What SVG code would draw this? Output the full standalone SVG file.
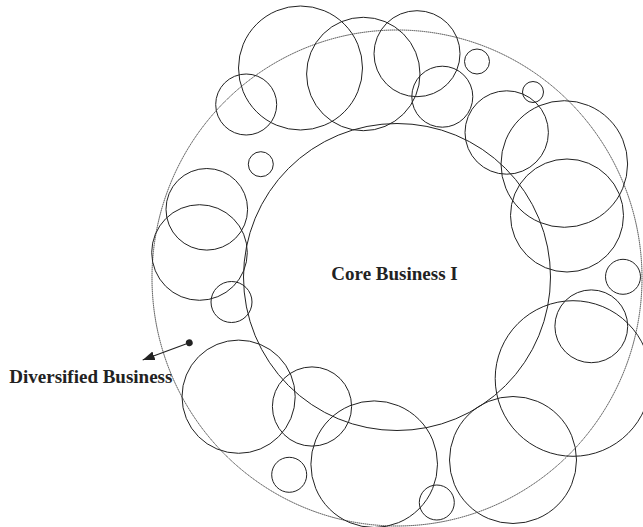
<svg xmlns="http://www.w3.org/2000/svg" width="643" height="527" viewBox="0 0 643 527">
<style>
.c{fill:none;stroke:#222;stroke-width:1}
.ring{fill:none;stroke:#333;stroke-width:0.9;stroke-dasharray:1.5 0.5}
.lbl{font-family:"Liberation Serif","Times New Roman",serif;font-weight:bold;font-size:19px;fill:#222}
.conn{stroke:#222;stroke-width:1.2;fill:none}
</style>
<defs>
<marker id="ah" markerUnits="userSpaceOnUse" markerWidth="13" markerHeight="10" refX="12" refY="4.5" orient="auto">
<path d="M0,0 L12,4.5 L0,9 z" fill="#222"/>
</marker>
<marker id="dot" markerUnits="userSpaceOnUse" markerWidth="8" markerHeight="8" refX="4" refY="4" orient="auto">
<circle cx="4" cy="4" r="3.4" fill="#222"/>
</marker>
</defs>
<g id="diversified">
<ellipse class="ring" cx="397" cy="278" rx="245" ry="248"/>
<text class="lbl" x="9.3" y="383.3">Diversified Business</text>
</g>
<g id="core">
<circle class="c" cx="397" cy="277" r="153.5"/>
<text class="lbl" x="394.5" y="280" text-anchor="middle">Core Business I</text>
</g>
<g id="businesses">
<circle id="b1" class="c" cx="300.5" cy="68" r="62"/>
<circle id="b2" class="c" cx="363.3" cy="74" r="56.7"/>
<circle id="b3" class="c" cx="417" cy="53.7" r="43"/>
<circle id="b4" class="c" cx="477" cy="61.5" r="12.5"/>
<circle id="b5" class="c" cx="442.3" cy="96.7" r="30.5"/>
<circle id="b6" class="c" cx="246.2" cy="104.5" r="30.5"/>
<circle id="b7" class="c" cx="260.8" cy="164.2" r="12.5"/>
<circle id="b8" class="c" cx="206.8" cy="209.3" r="40.8"/>
<circle id="b9" class="c" cx="199.5" cy="252.5" r="47.8"/>
<circle id="b10" class="c" cx="231.5" cy="302" r="20.5"/>
<circle id="b11" class="c" cx="506.7" cy="132.5" r="41.7"/>
<circle id="b12" class="c" cx="533" cy="92" r="10.5"/>
<circle id="b13" class="c" cx="564.3" cy="164" r="63.3"/>
<circle id="b14" class="c" cx="567" cy="215.5" r="56.5"/>
<circle id="b15" class="c" cx="623" cy="276.8" r="17.5"/>
<circle id="b16" class="c" cx="591.3" cy="326.3" r="36.4"/>
<circle id="b17" class="c" cx="573" cy="378.5" r="77.8"/>
<circle id="b18" class="c" cx="513" cy="460" r="63.5"/>
<circle id="b19" class="c" cx="374.2" cy="464.2" r="63.3"/>
<circle id="b20" class="c" cx="436.8" cy="502.5" r="17.5"/>
<circle id="b21" class="c" cx="289.2" cy="474.8" r="17.5"/>
<circle id="b22" class="c" cx="312" cy="406.5" r="39.6"/>
<circle id="b23" class="c" cx="238.6" cy="396.7" r="56.6"/>
</g>
<g id="connectors">
<line class="conn" x1="189.3" y1="342.7" x2="142.7" y2="360" marker-start="url(#dot)" marker-end="url(#ah)"/>
</g>
</svg>
